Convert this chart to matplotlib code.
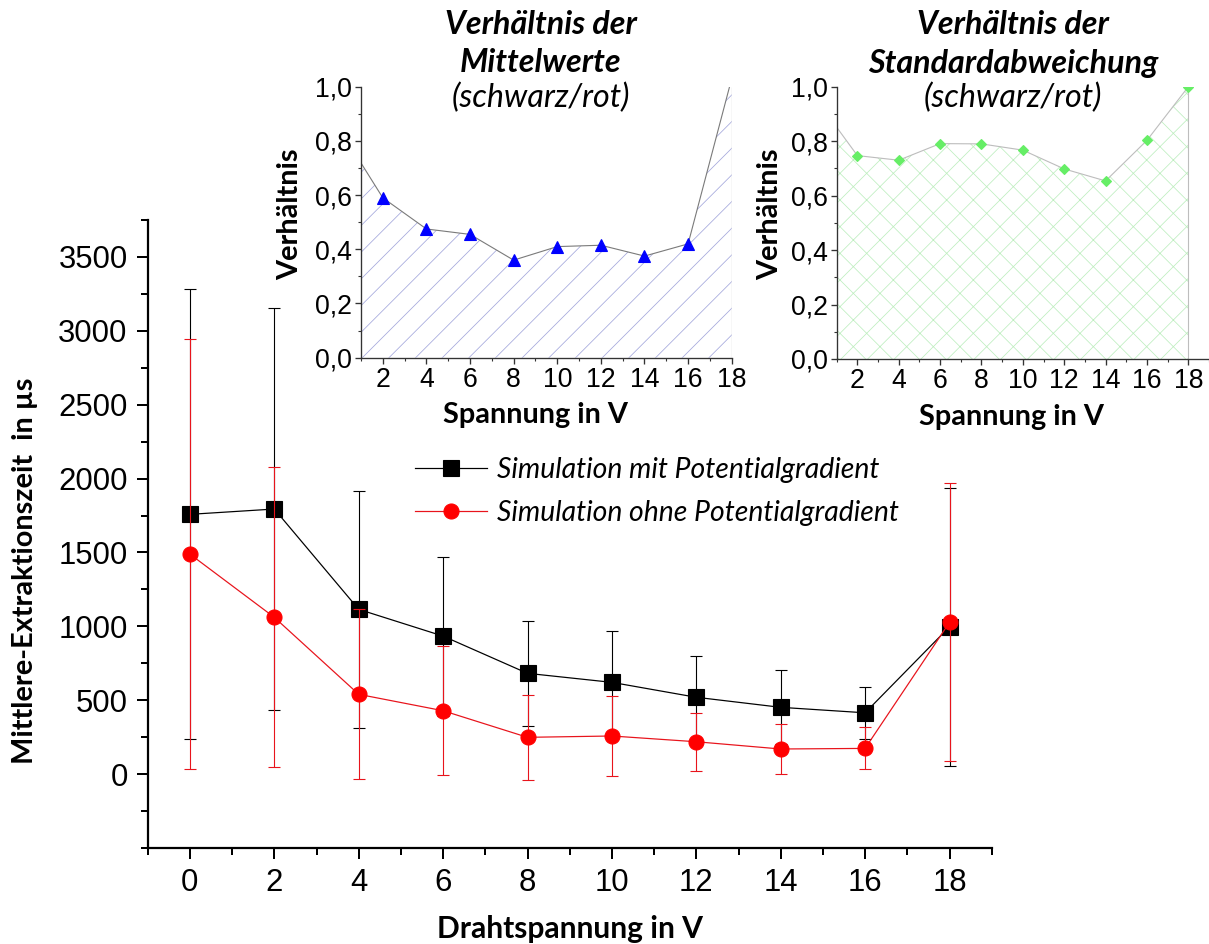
import numpy as np
import matplotlib.pyplot as plt
from matplotlib.ticker import MultipleLocator, FixedLocator, FuncFormatter

# Drahtspannung in V
spannung = [0, 2, 4, 6, 8, 10, 12, 14, 16, 18]

# Mittlere Extraktionszeit in µs (schwarz: mit Gradient, rot: ohne)
mit_gradient = [1758, 1794, 1115, 934, 682, 621, 520, 452, 415, 997]
mit_fehler = [1522, 1358, 800, 538, 355, 349, 281, 250, 176, 940]
ohne_gradient = [1489, 1061, 540, 429, 249, 258, 219, 170, 174, 1027]
ohne_fehler = [1453, 1015, 575, 435, 288, 270, 197, 166, 142, 940]

# Verhaeltnisse fuer die Einsaetze
verh_mittel = [0.847, 0.59, 0.475, 0.455, 0.36, 0.41, 0.415, 0.375, 0.42, 1.03]
verh_std = [0.955, 0.747, 0.73, 0.791, 0.79, 0.767, 0.698, 0.654, 0.803, 1.0]

W, H = 1209, 944
DPI = 80
label_font = 'Lato'
tick_font = 'Liberation Sans'
plt.rcParams['hatch.linewidth'] = 0.7


def px_axes(left, top, right, bottom):
    return [left / W, 1 - bottom / H, (right - left) / W, (bottom - top) / H]


fig = plt.figure(figsize=(W / DPI, H / DPI), dpi=DPI)

# Hauptdiagramm
ax = fig.add_axes(px_axes(147.7, 220, 991.7, 848))
ax.errorbar(spannung, mit_gradient, yerr=mit_fehler, fmt='none', ecolor='black',
            elinewidth=1.0, capsize=5, capthick=1.0, zorder=2)
ax.plot(spannung, mit_gradient, color='black', lw=1.1, marker='s', ms=14,
        label='Simulation mit Potentialgradient', zorder=3)
ax.errorbar(spannung, ohne_gradient, yerr=ohne_fehler, fmt='none', ecolor='#e8141c',
            elinewidth=1.0, capsize=5, capthick=1.0, zorder=4)
ax.plot(spannung, ohne_gradient, color='#e8141c', lw=1.1, marker='o', ms=13.5,
        markerfacecolor='#ff0000', markeredgecolor='#ff0000',
        label='Simulation ohne Potentialgradient', zorder=5)

ax.set_xlim(-1, 19)
ax.set_ylim(-500, 3750)
ax.xaxis.set_major_locator(FixedLocator(spannung))
ax.xaxis.set_minor_locator(MultipleLocator(1))
ax.yaxis.set_major_locator(FixedLocator([0, 500, 1000, 1500, 2000, 2500, 3000, 3500]))
ax.yaxis.set_minor_locator(MultipleLocator(250))
for s in ['top', 'right']:
    ax.spines[s].set_visible(False)
for s in ['left', 'bottom']:
    ax.spines[s].set_linewidth(2.0)
ax.tick_params(which='major', direction='out', length=10, width=1.8, labelsize=28, pad=8)
ax.tick_params(which='minor', direction='out', length=6, width=1.8)
for lab in ax.get_xticklabels() + ax.get_yticklabels():
    lab.set_family(tick_font)

ax.set_xlabel('Drahtspannung in V', family=label_font, fontweight='bold', fontsize=27)
ax.xaxis.set_label_coords(0.5, (848 - 915) / 628)
ax.set_ylabel('Mittlere-Extraktionszeit  in µs', family=label_font, fontweight='bold',
              fontsize=26)
ax.yaxis.set_label_coords((38 - 147.7) / 844, (848 - 571) / 628)

ax.legend(loc='upper left', bbox_to_anchor=(415 / W, 1 - 457 / H), bbox_transform=fig.transFigure,
          frameon=False, prop={'family': label_font, 'style': 'italic', 'size': 25.5},
          handlelength=2.55, handletextpad=0.35, labelspacing=0.6, borderaxespad=0, borderpad=0)

comma = FuncFormatter(lambda v, p: f'{v:.1f}'.replace('.', ','))


def inset(rect, werte, xmax, hatch, hatch_col, line_col, marker, mcol, ms, ylab_x):
    a = fig.add_axes(rect)
    a.fill_between(spannung, werte, 0, facecolor='none', edgecolor=hatch_col, hatch=hatch,
                   linewidth=0, zorder=1)
    a.plot(spannung, werte, color=line_col, lw=1.0, zorder=2)
    a.plot(spannung, werte, linestyle='none', marker=marker, ms=ms, color=mcol, zorder=3)
    a.vlines(spannung[-1], 0, min(werte[-1], 1.0), color=line_col, lw=1.0, zorder=2)
    a.set_xlim(1, xmax)
    a.set_ylim(0, 1.0)
    a.xaxis.set_major_locator(FixedLocator(spannung[1:]))
    a.xaxis.set_minor_locator(MultipleLocator(1))
    a.yaxis.set_major_locator(MultipleLocator(0.2))
    a.yaxis.set_minor_locator(MultipleLocator(0.1))
    a.yaxis.set_major_formatter(comma)
    for s in ['top', 'right']:
        a.spines[s].set_visible(False)
    for s in ['left', 'bottom']:
        a.spines[s].set_linewidth(1.2)
        a.spines[s].set_color('#333333')
    a.tick_params(which='major', direction='out', length=5, width=1.2, labelsize=24, pad=3,
                  color='#333333')
    a.tick_params(which='minor', direction='out', length=3, width=1.0, color='#333333')
    for lab in a.get_xticklabels() + a.get_yticklabels():
        lab.set_family(tick_font)
    a.set_xlabel('Spannung in V', family=label_font, fontweight='bold', fontsize=26)
    a.xaxis.set_label_coords(0.47, -0.165)
    a.set_ylabel('Verhältnis', family=label_font, fontweight='bold', fontsize=26)
    a.yaxis.set_label_coords(ylab_x, 0.53)
    return a


inset(px_axes(361, 86.7, 731.7, 357.7), verh_mittel, 18, '/', '#a4a8dc', '#7a7a7a', '^',
      '#0000ff', 10, -0.155)
inset(px_axes(836.7, 86.7, 1209, 359), verh_std, 19, 'x', '#bfeec0', '#bdbdbd', 'D',
      '#66ee66', 7, -0.145)

# Titel der Einsaetze
for cx, zeile2 in [(541, 'Mittelwerte'), (1013, 'Standardabweichung')]:
    fig.text(cx / W, 1 - 24 / H, 'Verhältnis der', family=label_font, fontweight='bold',
             style='italic', fontsize=29, ha='center', va='center')
    fig.text(cx / W, 1 - 63 / H, zeile2, family=label_font, fontweight='bold',
             style='italic', fontsize=29, ha='center', va='center')
    fig.text(cx / W, 1 - 98 / H, '(schwarz/rot)', family=label_font,
             style='italic', fontsize=29, ha='center', va='center')

fig.savefig('out.png', dpi=DPI)
